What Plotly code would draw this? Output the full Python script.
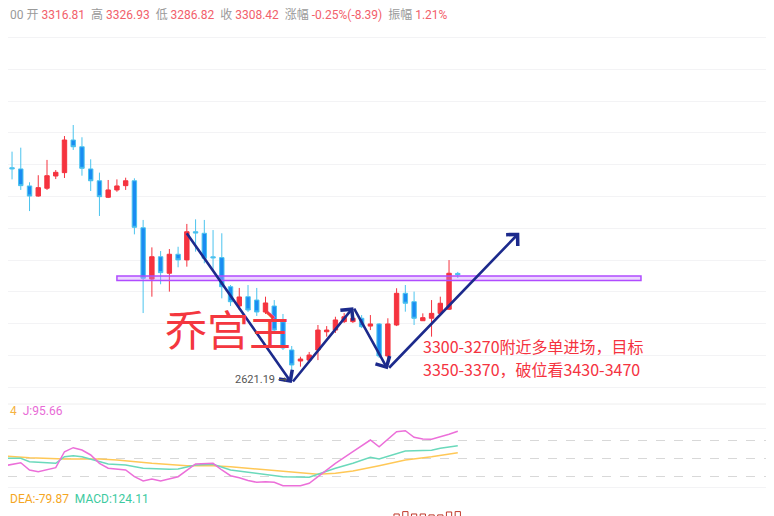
import plotly.graph_objects as go

# The page body adds an 8px margin, so the figure is 766x508 and sits at (8, 8).
OFF = 8
W, H = 774 - OFF, 516 - OFF

# ---------------- data ----------------
candle_idx = list(range(53))
opens = [3909, 4007, 3999, 3888, 3822, 3873, 3953, 3975, 4188, 4144, 3999, 3922, 3814, 3862, 3890, 3922,
         3615, 3280, 3426, 3318, 3442, 3405, 3589, 3579, 3425, 3420, 3230, 3104, 3165, 3143, 3065, 3104,
         3000, 2817, 2745, 2751, 2817, 2936, 2947, 3002, 3002, 3024, 2973, 2987, 2778, 2980, 3187, 3132,
         3008, 3024, 3056, 3083, 3316.81]
highs = [4058, 4112, 4138, 3912, 3958, 4058, 3992, 4214, 4286, 4206, 4062, 3975, 3927, 3931, 3942, 3938,
         3666, 3487, 3463, 3476, 3491, 3640, 3670, 3666, 3600, 3579, 3241, 3222, 3241, 3222, 3165, 3143,
         3052, 2843, 2773, 2804, 2980, 2973, 3034, 3058, 3067, 3045, 3045, 2993, 3024, 3220, 3241, 3198,
         3056, 3143, 3165, 3404, 3326.93]
lows = [3847, 3931, 3862, 3724, 3818, 3862, 3933, 3940, 4123, 3955, 3855, 3692, 3809, 3850, 3862, 3572,
        3058, 3165, 3246, 3198, 3357, 3361, 3459, 3383, 3339, 3154, 3104, 3078, 3065, 3039, 3052, 2934,
        2817, 2621.19, 2708, 2738, 2751, 2904, 2928, 2993, 2993, 2960, 2947, 2765, 2740, 2973, 3067, 2980,
        3006, 2904, 3052, 3078, 3286.82]
closes = [4007, 4000, 3890, 3822, 3877, 3955, 3977, 4188, 4144, 4003, 3922, 3818, 3862, 3888, 3922, 3618,
          3285, 3426, 3322, 3442, 3405, 3589, 3581, 3416, 3419, 3230, 3132, 3163, 3078, 3065, 3124, 2947,
          2830, 2719, 2758, 2784, 2947, 2947, 3013, 3034, 3024, 2969, 2987, 2778, 2987, 3187, 3122, 3024,
          3028, 3056, 3122, 3318, 3308.42]

# KDJ (read at candle positions)
k_idx = [0, 2, 3, 6, 7, 8, 9, 11, 12, 14, 16, 19, 20, 22, 24, 26, 29, 30, 32, 35, 36, 38, 40, 42, 43, 46, 49, 50, 52]
k_val = [50.0, 50.0, 44.3, 41.6, 52.7, 54.4, 52.7, 44.3, 40.4, 38.7, 33.2, 31.5, 32.0, 38.7, 39.9, 30.3, 24.7,
         23.5, 19.0, 18.0, 23.0, 33.2, 41.6, 51.7, 48.8, 62.3, 63.5, 66.9, 71.2]
d_idx = [0, 3, 7, 11, 13, 17, 21, 24, 26, 30, 34, 36, 38, 40, 43, 46, 49, 52]
d_val = [53.9, 51.0, 48.8, 48.8, 47.1, 41.6, 37.5, 37.5, 35.8, 30.3, 24.7, 23.0, 24.7, 28.6, 37.5, 47.1, 52.7, 59.4]
j_idx = [0, 2, 3, 4, 6, 7, 8, 9, 10, 11, 12, 14, 15, 16, 17, 18, 20, 21, 22, 24, 25, 26, 27, 28, 29, 30, 31, 32,
         34, 35, 36, 37, 38, 40, 42, 43, 45, 46, 47, 48, 49, 51, 52]
j_val = [37.0, 42.6, 30.3, 27.4, 34.2, 61.1, 67.9, 64.0, 55.6, 41.6, 33.2, 30.3, 19.0, 11.7, 15.1, 11.7, 19.0,
         30.3, 40.4, 41.6, 30.3, 20.7, 17.3, 12.6, 9.6, 10.6, 9.6, 3.8, 3.8, 7.9, 19.0, 30.3, 41.6, 61.1, 80.8,
         69.5, 94.8, 96.5, 85.4, 82.5, 82.0, 90.4, 95.66]
kdj_levels = [20, 50, 80]
d_last_label = "4"

# MACD histogram (visible part)
macd_idx = [45, 46, 47, 48, 49, 50, 51, 52]
macd_val = [111, 124, 111, 111, 106, 106, 122, 124.11]
dea_value = -79.87

# drawn annotations
zone_low, zone_high = 3270, 3300
zone_idx = [13.0, 72.96]
wave_idx = [20.87, 33.0, 40.05, 43.98, 59.04]
wave_price = [3589, 2601, 3096, 2691, 3583]
title_text = "乔宫主"
plan_lines = ["3300-3270附近多单进场，目标", "3350-3370，破位看3430-3470"]

# ---------------- helpers (screen pixel -> paper) ----------------
def pxx(X):
    return (X - OFF) / W

def pxy(Y):
    return 1 - (Y - OFF) / H

# ---------------- colors ----------------
RED = "#f5333f"
BLUE_FILL = "#1a8cf2"
BLUE_LINE = "#4cc4ee"
NAVY = "#1c2a8c"
GRID = "#f3f3f5"
CJK = "Roboto, 'Noto Sans CJK SC', sans-serif"

fig = go.Figure()

fig.add_trace(go.Candlestick(
    x=candle_idx, open=opens, high=highs, low=lows, close=closes,
    increasing=dict(line=dict(color=RED, width=1), fillcolor=RED),
    decreasing=dict(line=dict(color=BLUE_LINE, width=1), fillcolor=BLUE_FILL),
    whiskerwidth=0, hoverinfo="skip", xaxis="x", yaxis="y"))

for xs, ys, col in [(d_idx, d_val, "#ffc857"), (k_idx, k_val, "#6ad9bb"), (j_idx, j_val, "#ec6fd9")]:
    fig.add_trace(go.Scatter(x=xs, y=ys, mode="lines", line=dict(color=col, width=1.5),
                             hoverinfo="skip", xaxis="x2", yaxis="y2"))

fig.add_trace(go.Bar(x=macd_idx, y=macd_val, width=0.6,
                     marker=dict(color="white", line=dict(color="#c0392b", width=1)),
                     hoverinfo="skip", xaxis="x3", yaxis="y3"))

main_bottom = pxy(404)
kdj_bottom = pxy(501)

fig.update_layout(
    width=W, height=H, margin=dict(l=0, r=0, t=0, b=0),
    paper_bgcolor="white", plot_bgcolor="white", showlegend=False,
    boxgap=0.28,
    xaxis=dict(domain=[0, 1], range=[0.538, 88.18], visible=False, anchor="y",
               rangeslider=dict(visible=False)),
    xaxis2=dict(domain=[0, 1], matches="x", visible=False, anchor="y2"),
    xaxis3=dict(domain=[0, 1], matches="x", visible=False, anchor="y3"),
    yaxis=dict(domain=[main_bottom, 1], range=[2464.2, 5050.0], tick0=3404.5, dtick=207.33,
               showticklabels=False, showgrid=True, gridcolor=GRID, zeroline=False, ticks=""),
    yaxis2=dict(domain=[kdj_bottom, main_bottom], range=[-21.95, 141.5], tickvals=[0, 100],
                showticklabels=False, showgrid=True, gridcolor=GRID, zeroline=False,
                minor=dict(tickvals=kdj_levels, showgrid=True, griddash="dash",
                           gridcolor="#d8d8d8", gridwidth=1)),
    yaxis3=dict(domain=[0, kdj_bottom], range=[100, 181.8], showgrid=False,
                showticklabels=False, zeroline=False),
)

# panel separator
fig.add_shape(type="line", xref="paper", yref="y2 domain", x0=0, x1=1, y0=1, y1=1,
              line=dict(color="#eeeeee", width=1))

# purple support zone
fig.add_shape(type="rect", xref="x", yref="y", x0=zone_idx[0], x1=zone_idx[1], y0=zone_low, y1=zone_high,
              line=dict(color="#b04cff", width=1.5), fillcolor="rgba(200,140,255,0.35)")

# wave arrows
for i in range(1, len(wave_idx)):
    fig.add_annotation(x=wave_idx[i], y=wave_price[i], ax=wave_idx[i - 1], ay=wave_price[i - 1],
                       xref="x", yref="y", axref="x", ayref="y", text="", showarrow=True,
                       arrowhead=4, arrowsize=1.2, arrowwidth=2.6, arrowcolor=NAVY, standoff=0)

# big title
fig.add_annotation(x=pxx(228), y=pxy(327), xref="paper", yref="paper", text=title_text,
                   showarrow=False, xanchor="center", yanchor="middle",
                   font=dict(family="'Noto Sans CJK SC'", size=42, color="#f4373f"))

# plan text
for line, yy in zip(plan_lines, [345.5, 369.0]):
    fig.add_annotation(x=pxx(421), y=pxy(yy), xref="paper", yref="paper", text=line,
                       showarrow=False, xanchor="left", yanchor="middle", align="left",
                       font=dict(family="'Noto Sans CJK SC'", size=16, color="#f5333f"))

# low label
low_i = lows.index(min(lows))
fig.add_annotation(x=candle_idx[low_i], y=min(lows), xref="x", yref="y",
                   text=f"{min(lows):.2f} →", showarrow=False, xanchor="right", yanchor="middle",
                   xshift=-3, font=dict(family="Roboto, 'DejaVu Sans', sans-serif", size=11, color="#555555"))

# header
def red(s):
    return f"<span style='color:#f2606b'>{s}</span>"

o, h, l, c = opens[-1], highs[-1], lows[-1], closes[-1]
chg = c - o
hdr = ("00 开 " + red(f"{o:.2f}") + "  高 " + red(f"{h:.2f}") + "  低 " + red(f"{l:.2f}") +
       "  收 " + red(f"{c:.2f}") + "  涨幅 " + red(f"{chg / o * 100:.2f}%({chg:.2f})") +
       "  振幅 " + red(f"{(h - l) / o * 100:.2f}%"))
fig.add_annotation(x=0, y=pxy(15), xref="paper", yref="paper", text=hdr, showarrow=False,
                   xanchor="left", yanchor="middle", font=dict(family=CJK, size=12, color="#9a9a9a"))

kdj_hdr = (f"<span style='color:#f5b342'>{d_last_label}</span>  "
           f"<span style='color:#e86bd6'>J:{j_val[-1]:.2f}</span>")
fig.add_annotation(x=0, y=pxy(411), xref="paper", yref="paper", text=kdj_hdr, showarrow=False,
                   xanchor="left", yanchor="middle", font=dict(family=CJK, size=12))

macd_hdr = (f"<span style='color:#f5a623'>DEA:{dea_value:.2f}</span>  "
            f"<span style='color:#3dcaa0'>MACD:{macd_val[-1]:.2f}</span>")
fig.add_annotation(x=0, y=pxy(499), xref="paper", yref="paper", text=macd_hdr, showarrow=False,
                   xanchor="left", yanchor="middle", font=dict(family=CJK, size=12))

fig.write_html("out.html")
